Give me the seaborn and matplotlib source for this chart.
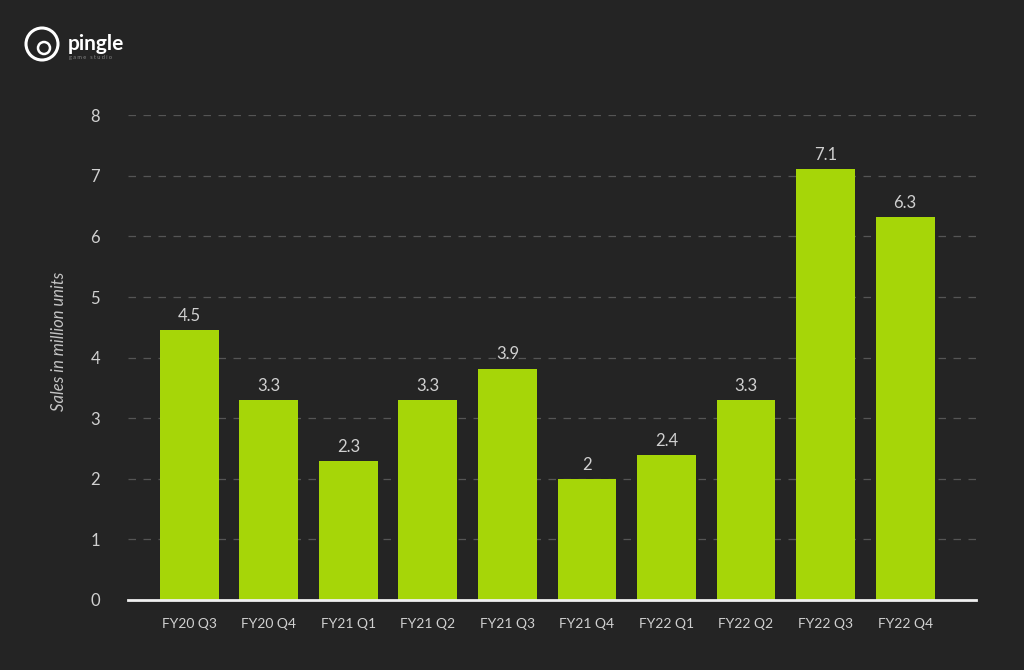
import matplotlib
matplotlib.use("Agg")
import matplotlib.pyplot as plt
from matplotlib.patches import Ellipse
import seaborn as sns
import pandas as pd

# data
quarters = ["FY20 Q3", "FY20 Q4", "FY21 Q1", "FY21 Q2", "FY21 Q3",
            "FY21 Q4", "FY22 Q1", "FY22 Q2", "FY22 Q3", "FY22 Q4"]
# bar heights as drawn in the picture
sales = [4.46, 3.3, 2.3, 3.3, 3.82, 2.0, 2.4, 3.3, 7.11, 6.32]
value_labels = ["4.5", "3.3", "2.3", "3.3", "3.9", "2", "2.4", "3.3", "7.1", "6.3"]
y_ticks = [0, 1, 2, 3, 4, 5, 6, 7, 8]

bg = "#242424"
bar_color = "#a6d608"
text_color = "#d0d0d0"

sns.set_theme(style="dark")
plt.rcParams["font.family"] = ["Lato", "DejaVu Sans"]

df = pd.DataFrame({"quarter": quarters, "sales": sales})

fig = plt.figure(figsize=(10.24, 6.7), dpi=100, facecolor=bg)
ax = fig.add_axes([0.125, 0.1045, 0.828, 0.7235])
ax.set_facecolor(bg)

sns.barplot(data=df, x="quarter", y="sales", color=bar_color, saturation=1,
            width=0.74, linewidth=0, edgecolor="none", ax=ax)

for i, (v, lab) in enumerate(zip(sales, value_labels)):
    ax.text(i, v + 0.1, lab, ha="center", va="bottom", color=text_color, fontsize=12)

ax.set_ylim(0, 8)
ax.set_xlim(-0.77, 9.89)
ax.set_yticks(y_ticks)
ax.set_yticklabels([str(t) for t in y_ticks])
for t in y_ticks[1:]:
    ax.axhline(t, color="#555555", lw=0.9, ls=(0, (6, 6)), zorder=0)
ax.grid(False)

for s in ["top", "right", "left"]:
    ax.spines[s].set_visible(False)
ax.spines["bottom"].set_color("#f0f0f0")
ax.spines["bottom"].set_linewidth(2)

ax.tick_params(axis="y", colors=text_color, labelsize=12, length=0, pad=20)
ax.tick_params(axis="x", colors=text_color, labelsize=10, length=0, pad=13)
ax.set_xlabel("")
ax.set_ylabel("Sales in million units", color="#c4c4c4", fontsize=12,
              fontstyle="italic")
ax.yaxis.set_label_coords(-0.072, 0.534)

# logo
fig.add_artist(Ellipse((42 / 1024, 1 - 44 / 670), 32 / 1024, 32 / 670,
                       transform=fig.transFigure, fill=False, ec="white", lw=2.2))
fig.add_artist(Ellipse((44 / 1024, 1 - 48 / 670), 12 / 1024, 12 / 670,
                       transform=fig.transFigure, fill=False, ec="white", lw=1.8))
fig.text(68 / 1024, 1 - 44 / 670, "pingle", color="white", fontsize=15,
         fontweight="bold", va="center", ha="left")
fig.text(69 / 1024, 1 - 58 / 670, "g a m e   s t u d i o", color="#888888",
         fontsize=4, va="center", ha="left")

fig.savefig("out.png", dpi=100, facecolor=bg)
